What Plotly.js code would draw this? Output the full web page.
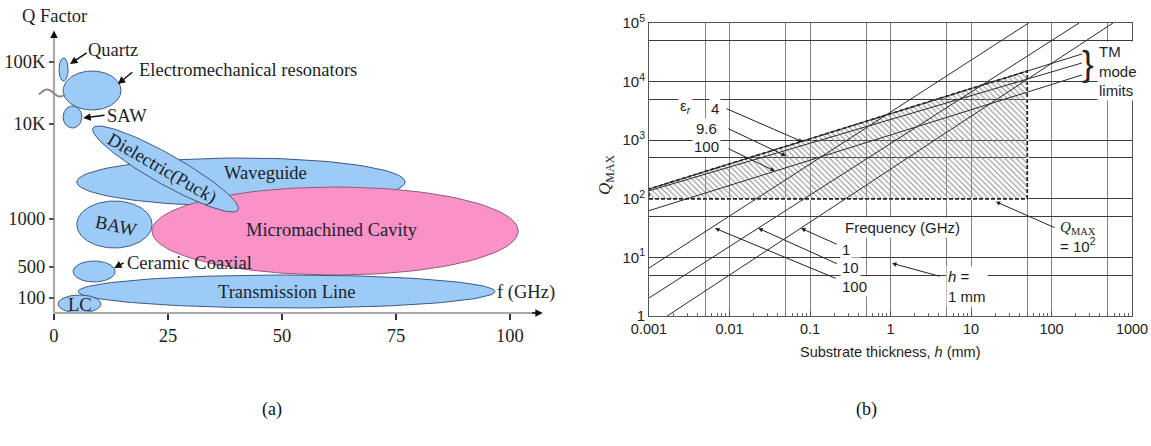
<!DOCTYPE html>
<html>
<head>
<meta charset="utf-8">
<script src="https://cdn.plot.ly/plotly-3.0.1.min.js"></script>
<style>
  html, body { margin: 0; padding: 0; background: #fff; }
  #chart { width: 1151px; height: 446px; }
</style>
</head>
<body>
<div id="chart"></div>
<script>
// ---------- (a) Q factor of resonator technologies versus frequency ----------
const techNames   = ['Waveguide', 'Micromachined Cavity', 'Dielectric(Puck)', 'BAW', 'Transmission Line',
                     'LC', 'Ceramic Coaxial', 'Quartz', 'Electromechanical resonators', 'SAW'];
const techFFrom   = [5.0, 21.5, 8.55, 5.0, 5.3, 0.9, 4.2, 1.1, 2.0, 2.0];      // GHz, start of long axis
const techFTo     = [77.0, 101.8, 40.35, 21.5, 96.7, 10.3, 13.4, 3.1, 14.7, 6.1]; // GHz, end of long axis
const techQFrom   = [131, 82, 185, 88.5, 21.5, 9, 41.5, 243.5, 222.5, 196];      // Q-scale level at start
const techQTo     = [131, 82, 103, 88.5, 21.5, 9, 41.5, 243.5, 222.5, 196];      // Q-scale level at end
const techQSpread = [48, 88, 30, 47, 33, 18, 21, 23, 39, 22];                    // Q-scale extent across
const qLevelTicks = [15, 46, 94, 189, 251];
const qLevelText  = ['100', '500', '1000', '10K', '100K'];
const fTicks      = [0, 25, 50, 75, 100];

// ---------- (b) maximum Q versus substrate thickness ----------
const freqGHz = ['1', '10', '100'];
const freqH0  = [0.00168, 0.001, 0.001];
const freqQ0  = [1, 2.03, 6.6];
const freqH1  = [580, 220, 52];
const freqQ1  = [1e5, 1e5, 1e5];

const epsR = ['4', '9.6', '100'];
const tmH  = [0.001, 239];
const tmQ0 = [147, 137, 62.7];
const tmQ1 = [29600, 20800, 12970];

const qLimit = 100;   // Q_MAX = 10^2 floor of the hatched band
const hLimit = 50;    // mm, right edge of the hatched band

const hTickVals = [0.001, 0.01, 0.1, 1, 10, 100, 1000];
const hTickText = ['0.001', '0.01', '0.1', '1', '10', '100', '1000'];
const hGridVals = [0.005, 0.05, 0.5, 5, 50, 500];
const qTickVals = [1, 10, 100, 1000, 1e4, 1e5];
const qTickText = ['1', '10<sup>1</sup>', '10<sup>2</sup>', '10<sup>3</sup>', '10<sup>4</sup>', '10<sup>5</sup>'];
const qGridVals = [5, 50, 500, 5000, 5e4];

// ---------- layout geometry ----------
const W = 1151, H = 446;
const xDomA = [0, 556 / W], xRangeA = [-11.84, 110.09];
const yDomA = [0, 1],       yRangeA = [-133, 313];
const kx = (xDomA[1] - xDomA[0]) * W / (xRangeA[1] - xRangeA[0]);
const ky = (yDomA[1] - yDomA[0]) * H / (yRangeA[1] - yRangeA[0]);

const SERIF = 'Liberation Serif, Times New Roman, serif';
const SANS = 'Liberation Sans, Arial, Helvetica, sans-serif';
const BLUE = '#9dcbf7', BLUE_EDGE = '#3e5880';
const PINK = '#f992c7', PINK_EDGE = '#94597a';
const INK = '#1b1f29';

// outline of a region: ellipse whose long axis joins the two end points
function regionOutline(i) {
  const x1 = techFFrom[i] * kx, y1 = techQFrom[i] * ky;
  const x2 = techFTo[i] * kx,   y2 = techQTo[i] * ky;
  const cx = (x1 + x2) / 2, cy = (y1 + y2) / 2;
  const a = Math.hypot(x2 - x1, y2 - y1) / 2, b = techQSpread[i] * ky / 2;
  const phi = Math.atan2(y2 - y1, x2 - x1);
  const xs = [], ys = [];
  for (let k = 0; k <= 120; k++) {
    const t = 2 * Math.PI * k / 120;
    const px = cx + a * Math.cos(t) * Math.cos(phi) - b * Math.sin(t) * Math.sin(phi);
    const py = cy + a * Math.cos(t) * Math.sin(phi) + b * Math.sin(t) * Math.cos(phi);
    xs.push(px / kx); ys.push(py / ky);
  }
  return { xs, ys };
}

const traces = [];
techNames.forEach((name, i) => {
  const o = regionOutline(i);
  const pink = name === 'Micromachined Cavity';
  traces.push({
    x: o.xs, y: o.ys, xaxis: 'x', yaxis: 'y', mode: 'lines', fill: 'toself',
    fillcolor: pink ? PINK : BLUE, line: { color: pink ? PINK_EDGE : BLUE_EDGE, width: 1 },
    hoverinfo: 'skip', name
  });
});

// axis lines of (a)
traces.push({ x: [0, 105.5], y: [0, 0], xaxis: 'x', yaxis: 'y', mode: 'lines',
  line: { color: '#a9a9a9', width: 2.2 }, hoverinfo: 'skip' });
traces.push({ x: [0, 0], y: [0, 276], xaxis: 'x', yaxis: 'y', mode: 'lines',
  line: { color: '#a9a9a9', width: 2.2 }, hoverinfo: 'skip' });
// axis break: one wave across the Q axis between 10K and 100K
(function () {
  const xs = [], ys = [];
  for (let k = 0; k <= 30; k++) {
    const t = k / 30;
    xs.push(-3.3 + 5.7 * t);
    ys.push(220 + 3.5 * Math.sin(2 * Math.PI * t - 0.4));
  }
  traces.push({ x: xs, y: ys, xaxis: 'x', yaxis: 'y', mode: 'lines',
    line: { color: '#8a8a8a', width: 2, shape: 'spline' }, hoverinfo: 'skip' });
})();

// ---------- (b) traces ----------
const L = Math.log10;
function tmQAt(i, h) {
  const t = (L(h) - L(tmH[0])) / (L(tmH[1]) - L(tmH[0]));
  return Math.pow(10, L(tmQ0[i]) + t * (L(tmQ1[i]) - L(tmQ0[i])));
}
const qTopRight = tmQAt(0, hLimit), qTopLeft = tmQAt(0, tmH[0]);

// clear the solid grid under the dashed band edges
traces.push({ x: [tmH[0], hLimit], y: [qLimit, qLimit], xaxis: 'x2', yaxis: 'y2', mode: 'lines',
  line: { color: '#ffffff', width: 3 }, hoverinfo: 'skip' });
traces.push({ x: [hLimit, hLimit], y: [qLimit, qTopRight], xaxis: 'x2', yaxis: 'y2', mode: 'lines',
  line: { color: '#ffffff', width: 3 }, hoverinfo: 'skip' });
// hatched band of attainable Q
traces.push({
  x: [tmH[0], hLimit, hLimit, tmH[0], tmH[0]],
  y: [qLimit, qLimit, qTopRight, qTopLeft, qLimit],
  xaxis: 'x2', yaxis: 'y2', mode: 'lines', fill: 'toself', fillcolor: 'rgba(0,0,0,0)',
  fillpattern: { shape: '\\', fgcolor: '#8e8e8e', bgcolor: 'rgba(0,0,0,0)', size: 4, solidity: 0.28 },
  line: { color: '#222', width: 1.7, dash: '4px,2px' }, hoverinfo: 'skip'
});
// TM mode limits
epsR.forEach((e, i) => {
  traces.push({ x: tmH, y: [tmQ0[i], tmQ1[i]], xaxis: 'x2', yaxis: 'y2', mode: 'lines',
    line: { color: '#2a2a2a', width: 1 }, hoverinfo: 'skip', name: 'er=' + e });
});
// conductor-loss limits at each frequency
freqGHz.forEach((f, i) => {
  traces.push({ x: [freqH0[i], freqH1[i]], y: [freqQ0[i], freqQ1[i]], xaxis: 'x2', yaxis: 'y2',
    mode: 'lines', line: { color: '#2a2a2a', width: 1 }, hoverinfo: 'skip', name: f + ' GHz' });
});

// ---------- tick arrays for (b) ----------
const hAll = hTickVals.concat(hGridVals).sort((a, b) => a - b);
const hAllText = hAll.map(v => { const k = hTickVals.indexOf(v); return k >= 0 ? hTickText[k] : ''; });
const qAll = qTickVals.concat(qGridVals).sort((a, b) => a - b);
const qAllText = qAll.map(v => { const k = qTickVals.indexOf(v); return k >= 0 ? qTickText[k] : ''; });
const hMinor = [];
for (let d = -3; d < 3; d++) for (let m = 2; m <= 9; m++) hMinor.push(m * Math.pow(10, d));

// ---------- annotations ----------
const ann = [];
function txtA(text, x, y, opt) {
  ann.push(Object.assign({ text, x, y, xref: 'x', yref: 'y', showarrow: false,
    xanchor: 'center', yanchor: 'middle',
    font: { family: SERIF, size: 18.5, color: INK } }, opt || {}));
}
function arrA(x, y, ax, ay) {
  ann.push({ text: '', x, y, ax, ay, xref: 'x', yref: 'y', axref: 'x', ayref: 'y',
    showarrow: true, arrowhead: 2, arrowsize: 1, arrowwidth: 1.5, arrowcolor: '#111', standoff: 0 });
}
txtA('Q Factor', 0.2, 297);
txtA('Quartz', 12.9, 263);
txtA('Electromechanical resonators', 42.5, 243);
txtA('SAW', 16.0, 197);
txtA('Dielectric(Puck)', 23.6, 145, { textangle: 30 });
txtA('Waveguide', 46.3, 140);
txtA('BAW', 13.6, 87, { textangle: 12 });
txtA('Micromachined Cavity', 61.0, 83);
txtA('Ceramic Coaxial', 29.8, 50);
txtA('Transmission Line', 51.1, 21);
txtA('LC', 5.7, 8);
txtA('f (GHz)', 103.5, 21);
arrA(3.5, 249, 7.5, 261);
arrA(14.0, 229, 17.5, 242);
arrA(6.4, 195, 11.4, 198);
arrA(13.2, 45, 15.6, 51);
arrA(107.2, 0, 104.5, 0);
arrA(0, 282.5, 0, 275);

function txtB(text, h, q, opt) {
  ann.push(Object.assign({ text, x: L(h), y: L(q), xref: 'x2', yref: 'y2', showarrow: false,
    xanchor: 'center', yanchor: 'middle',
    bgcolor: '#ffffff', borderpad: 1, font: { family: SANS, size: 15, color: '#1e1e1e' } }, opt || {}));
}
function arrB(h, q, th, tq) {
  ann.push({ text: '', x: L(h), y: L(q), ax: L(th), ay: L(tq), xref: 'x2', yref: 'y2', axref: 'x2', ayref: 'y2',
    showarrow: true, arrowhead: 2, arrowsize: 0.9, arrowwidth: 1, arrowcolor: '#222', standoff: 0 });
}
txtB('ε<sub><i>r</i></sub>', 0.0028, 3690);
txtB(epsR[0], 0.00661, 3540);
txtB(epsR[1], 0.00525, 1615);
txtB(epsR[2], 0.00525, 766);
arrB(0.0818, 931, 0.0088, 3540);
arrB(0.0504, 537, 0.0093, 1615);
arrB(0.0367, 298, 0.0093, 736);

txtB('Frequency (GHz)', 1.39, 33.0);
txtB(freqGHz[0], 0.236, 13.9, { xanchor: 'left' });
txtB(freqGHz[1], 0.236, 6.78, { xanchor: 'left' });
txtB(freqGHz[2], 0.236, 3.25, { xanchor: 'left' });
arrB(0.0773, 31.4, 0.225, 16.3);
arrB(0.0228, 31.4, 0.225, 7.62);
arrB(0.0066, 31.4, 0.218, 4.28);

txtB('<i>h</i> =<br>1 mm', 4.89, 3.13, { xanchor: 'left', align: 'left' });
arrB(1.045, 7.93, 4.24, 4.69);

txtB('<span style="font-family:Liberation Serif"><i>Q</i><sub>MAX</sub></span><br>= 10<sup>2</sup>', 213, 22.3, { align: 'center' });
arrB(20.3, 89.3, 114, 31.4);

txtB('TM<br>mode<br>limits', 367, 15200, { xanchor: 'left', align: 'left' });
txtB('}', 284, 20400, { bgcolor: 'rgba(0,0,0,0)', font: { family: SANS, size: 35, color: '#222' } });

// axis titles and panel captions
function txtP(text, px, py, font, opt) {
  ann.push(Object.assign({ text, xref: 'paper', yref: 'paper', x: px / W, y: (H - py) / H,
    xanchor: 'center', yanchor: 'middle', showarrow: false, font }, opt || {}));
}
txtP('<i>Q</i><sub>MAX</sub>', 606, 175, { family: SERIF, size: 17, color: '#1e1e1e' }, { textangle: -90 });
txtP('Substrate thickness, <i>h</i> (mm)', 890, 352, { family: SANS, size: 14.5, color: '#1e1e1e' });
txtP('(a)', 272, 409, { family: SERIF, size: 18, color: '#111' });
txtP('(b)', 866, 409, { family: SERIF, size: 18, color: '#111' });

const layout = {
  width: W, height: H, margin: { l: 0, r: 0, t: 0, b: 0 },
  paper_bgcolor: '#ffffff', plot_bgcolor: 'rgba(0,0,0,0)', showlegend: false,
  xaxis: {
    domain: xDomA, range: xRangeA, anchor: 'free', position: (H - 313) / H,
    tickmode: 'array', tickvals: fTicks, ticks: 'outside', ticklen: 6, tickwidth: 2, tickcolor: '#333',
    showline: false, showgrid: false, zeroline: false, fixedrange: true,
    tickfont: { family: SERIF, size: 18.5, color: '#222' }
  },
  yaxis: {
    domain: yDomA, range: yRangeA, anchor: 'free', position: 54 / W,
    tickmode: 'array', tickvals: qLevelTicks, ticktext: qLevelText, ticks: 'outside', ticklen: 5,
    tickwidth: 1.5, tickcolor: '#555', showline: false, showgrid: false, zeroline: false, fixedrange: true,
    tickfont: { family: SERIF, size: 18.5, color: '#222' }
  },
  xaxis2: {
    type: 'log', domain: [649 / W, 1132 / W], range: [-3, 3], anchor: 'y2',
    tickmode: 'array', tickvals: hAll, ticktext: hAllText, ticks: 'inside', ticklen: 5, tickcolor: '#555',
    showgrid: true, gridcolor: '#858585', gridwidth: 1,
    showline: true, mirror: true, linecolor: '#555', linewidth: 1, zeroline: false,
    minor: { tickmode: 'array', tickvals: hMinor, ticks: 'inside', ticklen: 3, tickcolor: '#666', showgrid: false },
    tickfont: { family: SANS, size: 14.5, color: '#222' }
  },
  yaxis2: {
    type: 'log', domain: [(H - 316) / H, (H - 23) / H], range: [0, 5], anchor: 'x2',
    tickmode: 'array', tickvals: qAll, ticktext: qAllText, ticks: '',
    showgrid: true, gridcolor: '#3c3c3c', gridwidth: 1,
    showline: true, mirror: true, linecolor: '#555', linewidth: 1, zeroline: false,
    tickfont: { family: SANS, size: 15, color: '#222' }
  },
  annotations: ann
};

Plotly.newPlot('chart', traces, layout, { staticPlot: true, displayModeBar: false });
</script>
</body>
</html>
